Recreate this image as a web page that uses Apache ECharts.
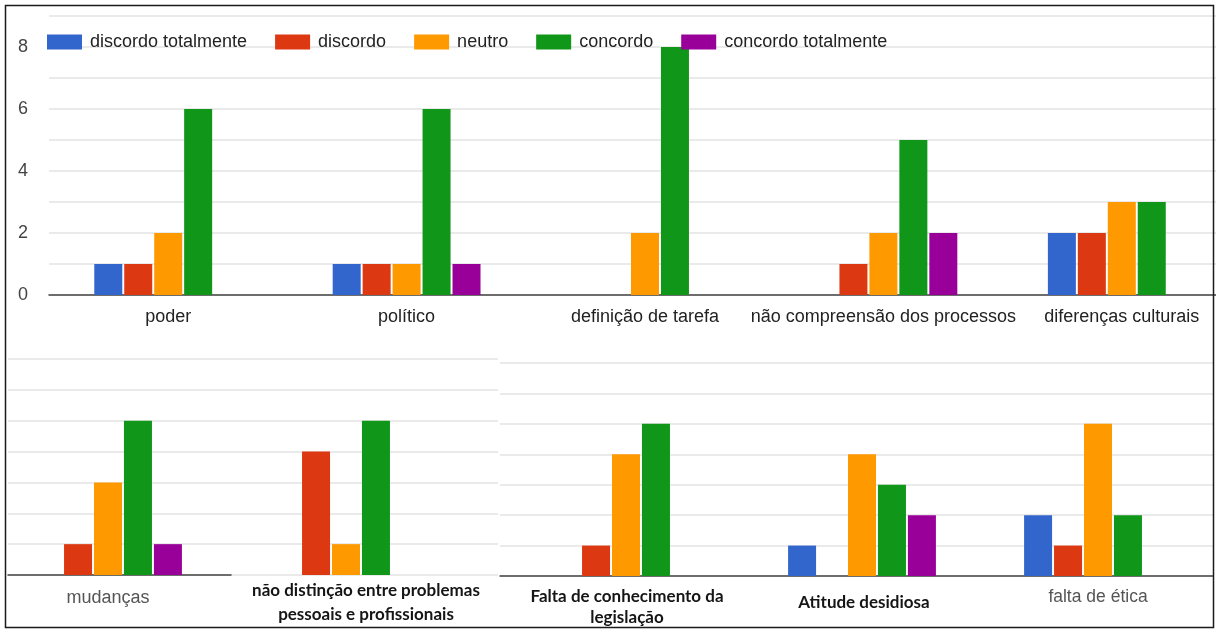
<!DOCTYPE html>
<html>
<head>
<meta charset="utf-8">
<script src="https://cdn.jsdelivr.net/npm/echarts@6/dist/echarts.min.js"></script>
<style>
  html, body { margin: 0; padding: 0; background: #fff; }
  #chart { width: 1216px; height: 632px; }
</style>
</head>
<body>
<div id="chart"></div>
<script>
// Response levels (legend order)
const levels = ['discordo totalmente', 'discordo', 'neutro', 'concordo', 'concordo totalmente'];
const levelColors = ['#3366cc', '#dc3912', '#ff9900', '#109618', '#990099'];

// Upper panel
const topCategories = ['poder', 'político', 'definição de tarefa', 'não compreensão dos processos', 'diferenças culturais'];
const topDiscordoTotalmente = [1, 1, 0, 0, 2];
const topDiscordo           = [1, 1, 0, 1, 2];
const topNeutro             = [2, 1, 2, 2, 3];
const topConcordo           = [6, 6, 8, 5, 3];
const topConcordoTotalmente = [0, 1, 0, 2, 0];

// Lower-left panel
const leftCategories = ['mudanças', 'não distinção entre problemas\npessoais e profissionais'];
const leftDiscordoTotalmente = [0, 0];
const leftDiscordo           = [1, 4];
const leftNeutro             = [3, 1];
const leftConcordo           = [5, 5];
const leftConcordoTotalmente = [1, 0];

// Lower-right panel
const rightCategories = ['Falta de conhecimento da\nlegislação', 'Atitude desidiosa', 'falta de ética'];
const rightDiscordoTotalmente = [0, 1, 2];
const rightDiscordo           = [1, 0, 1];
const rightNeutro             = [4, 4, 5];
const rightConcordo           = [5, 3, 2];
const rightConcordoTotalmente = [0, 2, 0];

// Y tick labels of the upper panel
const yTickLabels = [0, 2, 4, 6, 8];

const arial = 'Arial, "Liberation Sans", sans-serif';
const gridColor = '#e3e3e3';
const baseColor = '#444';

function barSeries(axisIndex, groups) {
  return groups.map((values, i) => ({
    name: levels[i],
    type: 'bar',
    xAxisIndex: axisIndex,
    yAxisIndex: axisIndex,
    data: values,
    barWidth: 28,
    barGap: '7%',
    itemStyle: { color: levelColors[i] },
    emphasis: { disabled: true },
    animation: false
  }));
}

const boldLabel = {
  fontFamily: 'Lato, "Open Sans", sans-serif',
  fontWeight: 700,
  fontSize: 17,
  color: '#151515'
};
const greyLabel = {
  fontFamily: arial,
  fontSize: 18,
  color: '#555'
};

// grids may sit partly outside the canvas (panels are cropped at the edges)
function grid(box) {
  return Object.assign({ outerBoundsMode: 'none', containLabel: false }, box);
}

const option = {
  backgroundColor: '#fff',
  animation: false,
  legend: {
    data: levels,
    left: 42,
    top: 28,
    icon: 'rect',
    itemWidth: 35,
    itemHeight: 15,
    itemGap: 28,
    selectedMode: false,
    textStyle: { fontFamily: arial, fontSize: 18, color: '#222', padding: [0, 0, 0, 3] }
  },
  grid: [
    grid({ left: 49, top: 16, width: 1192, height: 279 }),   // upper panel
    grid({ left: 8, top: 359, width: 490, height: 216 }),    // lower-left gridlines
    grid({ left: -11, top: 359, width: 476, height: 216 }),  // lower-left bars
    grid({ left: 8, top: 359, width: 223, height: 216 }),    // lower-left baseline
    grid({ left: 500, top: 363, width: 713, height: 213 }),  // lower-right gridlines
    grid({ left: 508, top: 363, width: 708, height: 213 })   // lower-right bars
  ],
  xAxis: [
    {
      type: 'category', gridIndex: 0, data: topCategories,
      axisLine: { lineStyle: { color: baseColor, width: 1.5 } },
      axisTick: { show: false },
      axisLabel: { interval: 0, margin: 13, fontFamily: arial, fontSize: 18, color: '#222' }
    },
    { type: 'category', gridIndex: 1, data: [''], show: false },
    {
      type: 'category', gridIndex: 2,
      data: [
        { value: leftCategories[0], textStyle: Object.assign({}, greyLabel, { padding: [10, 0, 0, 0] }) },
        { value: leftCategories[1], textStyle: Object.assign({}, boldLabel, { lineHeight: 24, padding: [0, 0, 0, 40] }) }
      ],
      axisLine: { show: false },
      axisTick: { show: false },
      axisLabel: { interval: 0, margin: 4 }
    },
    {
      type: 'category', gridIndex: 3, data: [''],
      axisLine: { lineStyle: { color: baseColor, width: 1.5 } },
      axisTick: { show: false },
      axisLabel: { show: false }
    },
    {
      type: 'category', gridIndex: 4, data: [''],
      axisLine: { lineStyle: { color: baseColor, width: 1.5 } },
      axisTick: { show: false },
      axisLabel: { show: false }
    },
    {
      type: 'category', gridIndex: 5,
      data: [
        { value: rightCategories[0], textStyle: Object.assign({}, boldLabel, { lineHeight: 21, padding: [2, 0, 0, 2] }) },
        { value: rightCategories[1], textStyle: Object.assign({}, boldLabel, { lineHeight: 18, padding: [10, 0, 0, 4] }) },
        { value: rightCategories[2], textStyle: Object.assign({}, greyLabel, { fontSize: 17.5, padding: [4, 0, 0, 0] }) }
      ],
      axisLine: { show: false },
      axisTick: { show: false },
      axisLabel: { interval: 0, margin: 8 }
    }
  ],
  yAxis: [
    {
      type: 'value', gridIndex: 0, min: 0, max: 9, interval: 1,
      axisLine: { show: false }, axisTick: { show: false },
      axisLabel: {
        margin: 21, fontFamily: arial, fontSize: 18, color: '#444',
        formatter: v => (yTickLabels.indexOf(v) >= 0 ? String(v) : '')
      },
      splitLine: { lineStyle: { color: gridColor, width: 1.5 } }
    },
    {
      type: 'value', gridIndex: 1, min: 0, max: 7, interval: 1,
      axisLine: { show: false }, axisTick: { show: false }, axisLabel: { show: false },
      splitLine: { lineStyle: { color: gridColor, width: 1.5 } }
    },
    { type: 'value', gridIndex: 2, min: 0, max: 7, interval: 1, show: false },
    { type: 'value', gridIndex: 3, min: 0, max: 7, interval: 1, show: false },
    {
      type: 'value', gridIndex: 4, min: 0, max: 7, interval: 1,
      axisLine: { show: false }, axisTick: { show: false }, axisLabel: { show: false },
      splitLine: { lineStyle: { color: gridColor, width: 1.5 } }
    },
    { type: 'value', gridIndex: 5, min: 0, max: 7, interval: 1, show: false }
  ],
  series: [].concat(
    barSeries(0, [topDiscordoTotalmente, topDiscordo, topNeutro, topConcordo, topConcordoTotalmente]),
    barSeries(2, [leftDiscordoTotalmente, leftDiscordo, leftNeutro, leftConcordo, leftConcordoTotalmente]),
    barSeries(5, [rightDiscordoTotalmente, rightDiscordo, rightNeutro, rightConcordo, rightConcordoTotalmente])
  ),
  graphic: [
    {
      type: 'rect', z: 100, silent: true,
      shape: { x: 5.5, y: 5.5, width: 1208, height: 622 },
      style: { fill: 'none', stroke: '#1a1a1a', lineWidth: 1.5 }
    }
  ]
};

const chart = echarts.init(document.getElementById('chart'), null, { renderer: 'canvas' });
chart.setOption(option);
</script>
</body>
</html>
